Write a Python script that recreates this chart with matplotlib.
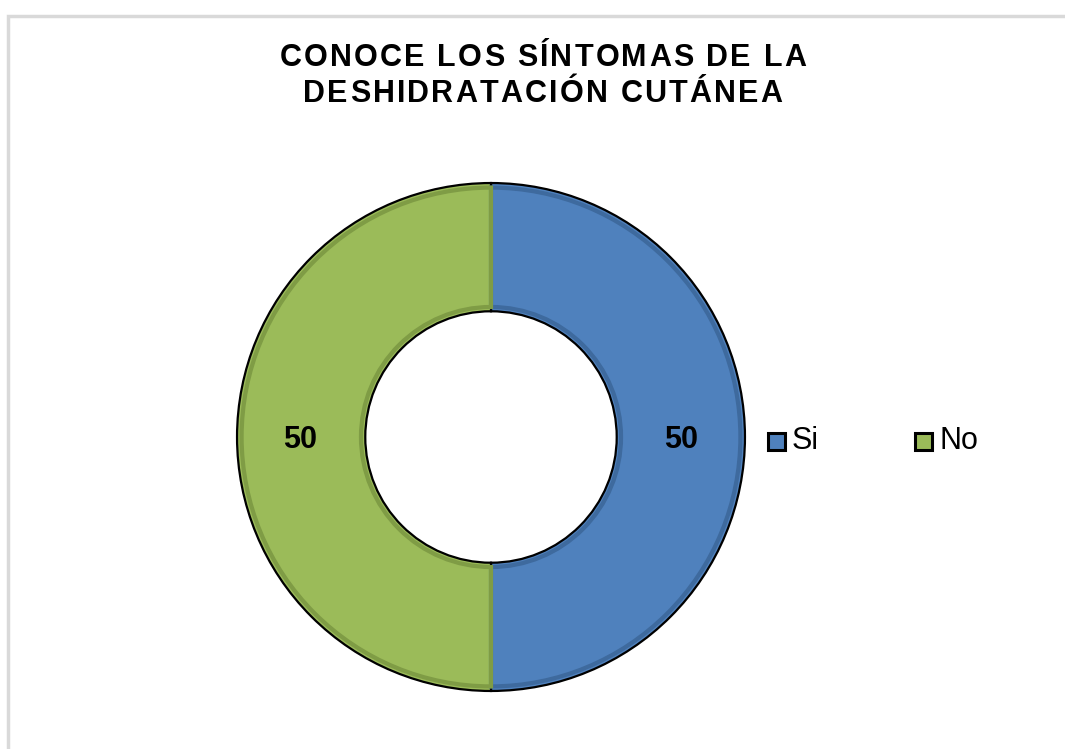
import numpy as np
import matplotlib.pyplot as plt
from matplotlib.patches import Rectangle, Wedge

plt.rcParams['font.family'] = ['Liberation Sans', 'DejaVu Sans']

title_lines = ['CONOCE LOS SÍNTOMAS DE LA', 'DESHIDRATACIÓN CUTÁNEA']
categories = ['Si', 'No']
values = [50, 50]
colors = ['#4f81bd', '#9bbb59']
edge_dark = ['#3e6a9e', '#7f9c45']

W, H = 1065, 749
fig = plt.figure(figsize=(W / 100, H / 100), dpi=100)
renderer = fig.canvas.get_renderer()


def spaced_text(cx, cy, s, spacing, **kw):
    """draw text centred at pixel (cx, cy) with extra letter spacing (px)"""
    widths = []
    for ch in s:
        t = fig.text(0, 0, ch, **kw)
        widths.append(t.get_window_extent(renderer).width)
        t.remove()
    total = sum(widths) + spacing * (len(s) - 1)
    x = cx - total / 2
    for ch, w in zip(s, widths):
        fig.text(x / W, 1 - cy / H, ch, ha='left', va='baseline', **kw)
        x += w + spacing


# light grey chart border
fig.patches.append(Rectangle((7.5 / W, -0.1), 1.1, (H - 16) / H + 0.1,
                             transform=fig.transFigure, fill=False,
                             edgecolor='#d9d9d9', linewidth=2.5))

R = 256
ax = fig.add_axes([(491 - R) / W, (H - 437 - R) / H, 2 * R / W, 2 * R / H])
wedges, _ = ax.pie(values, colors=colors, startangle=90, counterclock=False,
                   radius=1, wedgeprops=dict(width=0.505, edgecolor='black', linewidth=1.6))

# darker inner bevel
tot = sum(values)
ang = 90
for v, c in zip(values, edge_dark):
    span = 360 * v / tot
    ax.add_patch(Wedge((0, 0), 0.982, ang - span, ang, width=0.47, fill=False,
                       edgecolor=c, linewidth=3, zorder=1.5))
    ang -= span

# data labels
ang = 90
for v in values:
    span = 360 * v / tot
    mid = np.deg2rad(ang - span / 2)
    ax.text(0.75 * np.cos(mid), 0.75 * np.sin(mid) - 0.01, str(v), ha='center', va='center',
            fontsize=22, fontweight='bold')
    ang -= span

ax.set_xlim(-1.008, 1.008)
ax.set_ylim(-1.008, 1.008)
ax.set_aspect('equal')
ax.axis('off')

# title with letter spacing (baselines in px from top)
spaced_text(543, 66, title_lines[0], 2.2, fontsize=22, fontweight='bold')
spaced_text(543, 102, title_lines[1], 2.2, fontsize=22, fontweight='bold')

# legend
leg_x = [768, 915]
for lx, lab, c in zip(leg_x, categories, colors):
    fig.patches.append(Rectangle((lx / W, 1 - 450 / H), 17 / W, 17 / H,
                                 transform=fig.transFigure, facecolor=c,
                                 edgecolor='black', linewidth=2.2))
    fig.text((lx + 24) / W, 1 - 441 / H, lab, ha='left', va='center', fontsize=22)

fig.savefig('out.png', dpi=100)
